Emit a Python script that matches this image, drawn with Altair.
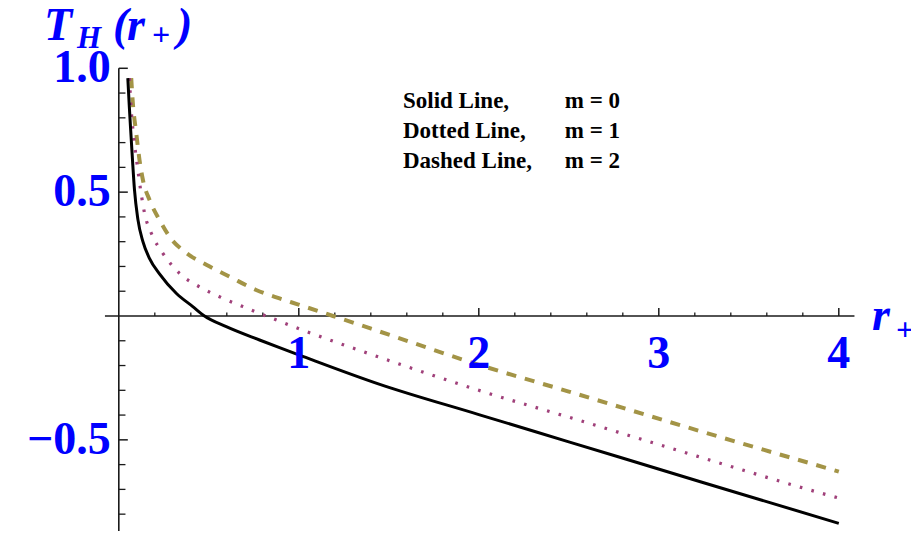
import altair as alt
import pandas as pd

# ---- values ----
# m = 0 (solid)
r_m0 = [0.050, 0.058, 0.066, 0.076, 0.087, 0.106, 0.134, 0.171, 0.226, 0.319,
        0.411, 0.476, 0.597, 0.782, 0.893, 1.000, 1.450, 2.000, 2.500, 3.240, 4.000]
t_m0 = [0.960, 0.850, 0.750, 0.630, 0.510, 0.390, 0.300, 0.232, 0.170, 0.092,
        0.038, 0.000, -0.043, -0.097, -0.128, -0.157, -0.276, -0.398, -0.508, -0.671, -0.837]
# m = 1 (dotted)
r_m1 = [0.059, 0.069, 0.087, 0.106, 0.124, 0.143, 0.180, 0.245, 0.337, 0.448,
        0.559, 0.689, 0.819, 1.022, 1.450, 2.000, 2.520, 3.190, 3.940, 4.000]
t_m1 = [0.960, 0.832, 0.697, 0.589, 0.495, 0.415, 0.335, 0.253, 0.172, 0.118,
        0.078, 0.038, 0.000, -0.057, -0.167, -0.300, -0.413, -0.561, -0.723, -0.735]
# m = 2 (dashed)
r_m2 = [0.069, 0.078, 0.097, 0.115, 0.134, 0.171, 0.226, 0.282, 0.374, 0.486,
        0.615, 0.763, 0.893, 0.994, 1.190, 1.450, 2.000, 2.500, 3.240, 4.000]
t_m2 = [0.960, 0.859, 0.738, 0.630, 0.549, 0.468, 0.388, 0.320, 0.255, 0.207,
        0.159, 0.105, 0.071, 0.047, 0.000, -0.063, -0.197, -0.305, -0.467, -0.628]

x_major_ticks = [1, 2, 3, 4]
x_tick_labels = ["1", "2", "3", "4"]
x_minor_ticks = [0.2, 0.4, 0.6, 0.8, 1.2, 1.4, 1.6, 1.8, 2.2, 2.4, 2.6, 2.8,
                 3.2, 3.4, 3.6, 3.8]
y_major_ticks = [-0.5, 0.5, 1.0]
y_tick_labels = ["\u22120.5", "0.5", "1.0"]
y_minor_ticks = [-0.8, -0.7, -0.6, -0.4, -0.3, -0.2, -0.1, 0.1, 0.2, 0.3, 0.4,
                 0.6, 0.7, 0.8, 0.9]
axis_x_extent = [-0.077, 4.087]
axis_y_extent = [-0.868, 1.0]

legend_names = ["Solid Line,", "Dotted Line,", "Dashed Line,"]
legend_m = ["m = 0", "m = 1", "m = 2"]

# ---- layout ----
W, H = 903, 523
XMIN, XMAX = -0.6156, 4.4011
YMIN, YMAX = -0.8680, 1.2434
xs = alt.Scale(domain=[XMIN, XMAX], nice=False, zero=False)
ys = alt.Scale(domain=[YMIN, YMAX], nice=False, zero=False)
FONT = "Liberation Serif"
BLUE = "#0000FF"
AX = "#1a1a1a"


def X(f):
    return alt.X(f, type="quantitative", scale=xs, axis=None)


def Y(f):
    return alt.Y(f, type="quantitative", scale=ys, axis=None)


def XD(v):
    return alt.XDatum(v, type="quantitative", scale=xs, axis=None)


def YD(v):
    return alt.YDatum(v, type="quantitative", scale=ys, axis=None)


df0 = pd.DataFrame({"r": r_m0, "t": t_m0})
df1 = pd.DataFrame({"r": r_m1, "t": t_m1})
df2 = pd.DataFrame({"r": r_m2, "t": t_m2})

dashed = alt.Chart(df2).mark_line(color="#A39446", strokeWidth=4, strokeDash=[10, 9],
                                  interpolate="monotone").encode(x=X("r"), y=Y("t"))
dotted = alt.Chart(df1).mark_line(color="#A0407A", strokeWidth=3.2, strokeDash=[2.6, 9.4],
                                  interpolate="monotone").encode(x=X("r"), y=Y("t"))
solid = alt.Chart(df0).mark_line(color="black", strokeWidth=3,
                                 interpolate="monotone").encode(x=X("r"), y=Y("t"))

xaxis_df = pd.DataFrame({"x0": [axis_x_extent[0]], "x1": [axis_x_extent[1]]})
yaxis_df = pd.DataFrame({"y0": [axis_y_extent[0]], "y1": [axis_y_extent[1]]})
x_axis = alt.Chart(xaxis_df).mark_rule(color=AX, strokeWidth=1.6).encode(
    x=X("x0"), x2="x1", y=YD(0))
y_axis = alt.Chart(yaxis_df).mark_rule(color=AX, strokeWidth=1.6).encode(
    y=Y("y0"), y2="y1", x=XD(0))

xmaj = alt.Chart(pd.DataFrame({"x": x_major_ticks})).mark_rule(color=AX, strokeWidth=1.5).encode(
    x=X("x"), y=YD(0), y2=alt.Y2Datum(0.0323))
xmin_ = alt.Chart(pd.DataFrame({"x": x_minor_ticks})).mark_rule(color=AX, strokeWidth=1.3).encode(
    x=X("x"), y=YD(0), y2=alt.Y2Datum(0.0141))
ymaj = alt.Chart(pd.DataFrame({"y": y_major_ticks})).mark_rule(color=AX, strokeWidth=1.5).encode(
    y=Y("y"), x=XD(0), x2=alt.X2Datum(0.05))
ymin_ = alt.Chart(pd.DataFrame({"y": y_minor_ticks})).mark_rule(color=AX, strokeWidth=1.3).encode(
    y=Y("y"), x=XD(0), x2=alt.X2Datum(0.037))

xlabels = alt.Chart(pd.DataFrame({"x": x_major_ticks, "label": x_tick_labels})).mark_text(
    font=FONT, fontWeight="bold", fontSize=46, color=BLUE, align="center",
    baseline="alphabetic", dy=52).encode(x=X("x"), y=YD(0), text="label")
ylabels = alt.Chart(pd.DataFrame({"y": y_major_ticks, "label": y_tick_labels})).mark_text(
    font=FONT, fontWeight="bold", fontSize=46, color=BLUE, align="right",
    baseline="alphabetic", dx=-8, dy=14).encode(x=XD(0), y=Y("y"), text="label")


def piece(txt, px, py, size, italic=True, color=BLUE, align="left"):
    kw = dict(font=FONT, fontWeight="bold", fontSize=size, color=color,
              align=align, baseline="alphabetic")
    if italic:
        kw["fontStyle"] = "italic"
    return alt.Chart(pd.DataFrame({"s": [txt]})).mark_text(**kw).encode(
        x=alt.value(px), y=alt.value(py), text="s")


title_parts = [
    piece("T", 36, 32, 46),
    piece("H", 69, 40, 31),
    piece("(", 105, 32, 46),
    piece("r", 119, 32, 46),
    piece("+", 144, 37, 32, italic=False),
    piece(")", 169, 32, 46),
]
xlabel_parts = [
    piece("r", 864, 322, 46),
    piece("+", 888, 332, 32, italic=False),
]

legend_parts = []
for i, (nm, mm) in enumerate(zip(legend_names, legend_m)):
    legend_parts.append(piece(nm, 395, 100 + 30 * i, 23, italic=False, color="black"))
    legend_parts.append(piece(mm, 612, 100 + 30 * i, 23, italic=False, color="black",
                              align="right"))

chart = alt.layer(
    x_axis, y_axis, xmaj, xmin_, ymaj, ymin_,
    dashed, dotted, solid,
    xlabels, ylabels, *title_parts, *xlabel_parts, *legend_parts,
).properties(
    width=W, height=H, padding=0, background="white",
    autosize=alt.AutoSizeParams(type="none"),
).configure_view(stroke=None).configure_axis(disable=True)

chart.save("out.html", embed_options={"renderer": "svg", "actions": False})
